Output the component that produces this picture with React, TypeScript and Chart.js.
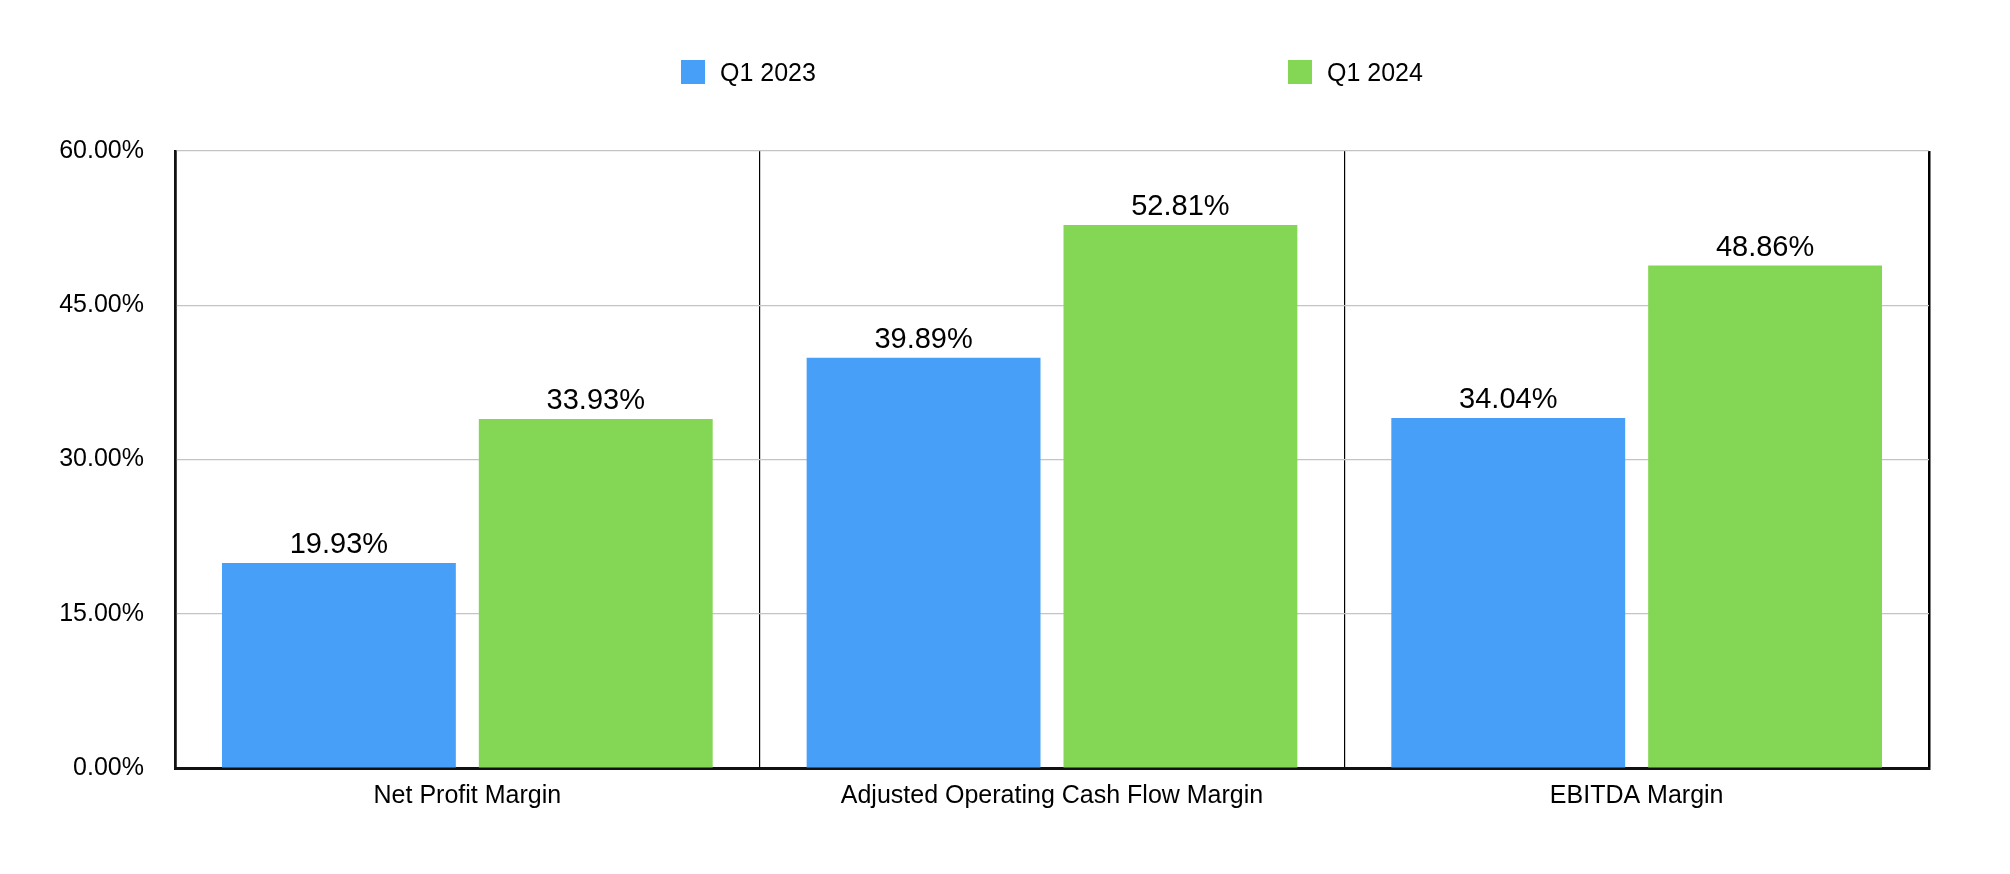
import React, { useEffect, useRef } from "react";
import { Chart, registerables } from "chart.js";

Chart.register(...registerables);

const categories = ["Net Profit Margin", "Adjusted Operating Cash Flow Margin", "EBITDA Margin"];
const seriesNames = ["Q1 2023", "Q1 2024"];
const q1_2023 = [19.93, 39.89, 34.04];
const q1_2024 = [33.93, 52.81, 48.86];
const seriesColors = ["#489ff8", "#83d754"];
const yTicks = [0, 15, 30, 45, 60];

const FONT = "Helvetica, Arial, 'Liberation Sans', sans-serif";

const valueLabels = {
  id: "valueLabels",
  afterDatasetsDraw(chart: any) {
    const ctx = chart.ctx;
    ctx.save();
    ctx.font = `29px ${FONT}`;
    ctx.fillStyle = "#000";
    ctx.textAlign = "center";
    ctx.textBaseline = "alphabetic";
    chart.data.datasets.forEach((ds: any, di: number) => {
      const meta = chart.getDatasetMeta(di);
      meta.data.forEach((bar: any, i: number) => {
        const v = ds.data[i] as number;
        ctx.fillText(v.toFixed(2) + "%", bar.x, bar.y - 10);
      });
    });
    ctx.restore();
  },
};

export default function App() {
  const ref = useRef<HTMLCanvasElement | null>(null);

  useEffect(() => {
    if (!ref.current) return;
    const chart = new Chart(ref.current, {
      type: "bar",
      data: {
        labels: categories,
        datasets: [
          { label: seriesNames[0], data: q1_2023, backgroundColor: seriesColors[0], categoryPercentage: 0.8786, barPercentage: 0.9105 },
          { label: seriesNames[1], data: q1_2024, backgroundColor: seriesColors[1], categoryPercentage: 0.8786, barPercentage: 0.9105 },
        ],
      },
      options: {
        animation: false,
        responsive: true,
        maintainAspectRatio: false,
        devicePixelRatio: 1,
        layout: { padding: { left: 10, right: 81, top: 151, bottom: 0 } },
        plugins: { legend: { display: false }, tooltip: { enabled: false } },
        scales: {
          x: {
            afterFit: (s: any) => {
              s.height = 106;
            },
            grid: {
              display: true,
              offset: true,
              color: "#000",
              lineWidth: (c: any) => (c.index === undefined || c.index === 0 ? 2.5 : 1.2),
              drawTicks: false,
              tickLength: 0,
            },
            border: { display: true, color: "#111", width: 3 },
            ticks: { color: "#000", font: { family: FONT, size: 25 }, padding: 13 },
          },
          y: {
            min: 0,
            max: 60,
            afterFit: (s: any) => {
              s.width = 165;
            },
            afterBuildTicks: (s: any) => {
              s.ticks = yTicks.map((v) => ({ value: v }));
            },
            grid: { color: "#c4c4c4", lineWidth: 1.2, drawTicks: false, tickLength: 0 },
            border: { display: true, color: "#111", width: 2.5 },
            ticks: {
              color: "#000",
              font: { family: FONT, size: 25 },
              padding: 31,
              callback: (v: any) => Number(v).toFixed(2) + "%",
            },
          },
        },
      },
      plugins: [valueLabels],
    });
    return () => chart.destroy();
  }, []);

  const legendPos = [681, 1288];

  return (
    <div style={{ position: "fixed", left: 0, top: 0, width: 2010, height: 874, background: "#fff" }}>
      <canvas ref={ref} style={{ width: "100%", height: "100%" }} />
      {seriesNames.map((name, i) => (
        <div
          key={name}
          style={{
            position: "absolute",
            left: legendPos[i],
            top: 60,
            height: 24,
            display: "flex",
            alignItems: "center",
            fontFamily: FONT,
            fontSize: 25,
            color: "#000",
            whiteSpace: "nowrap",
          }}
        >
          <span style={{ display: "inline-block", width: 24, height: 24, background: seriesColors[i], marginRight: 15 }} />
          <span style={{ lineHeight: "24px" }}>{name}</span>
        </div>
      ))}
    </div>
  );
}
